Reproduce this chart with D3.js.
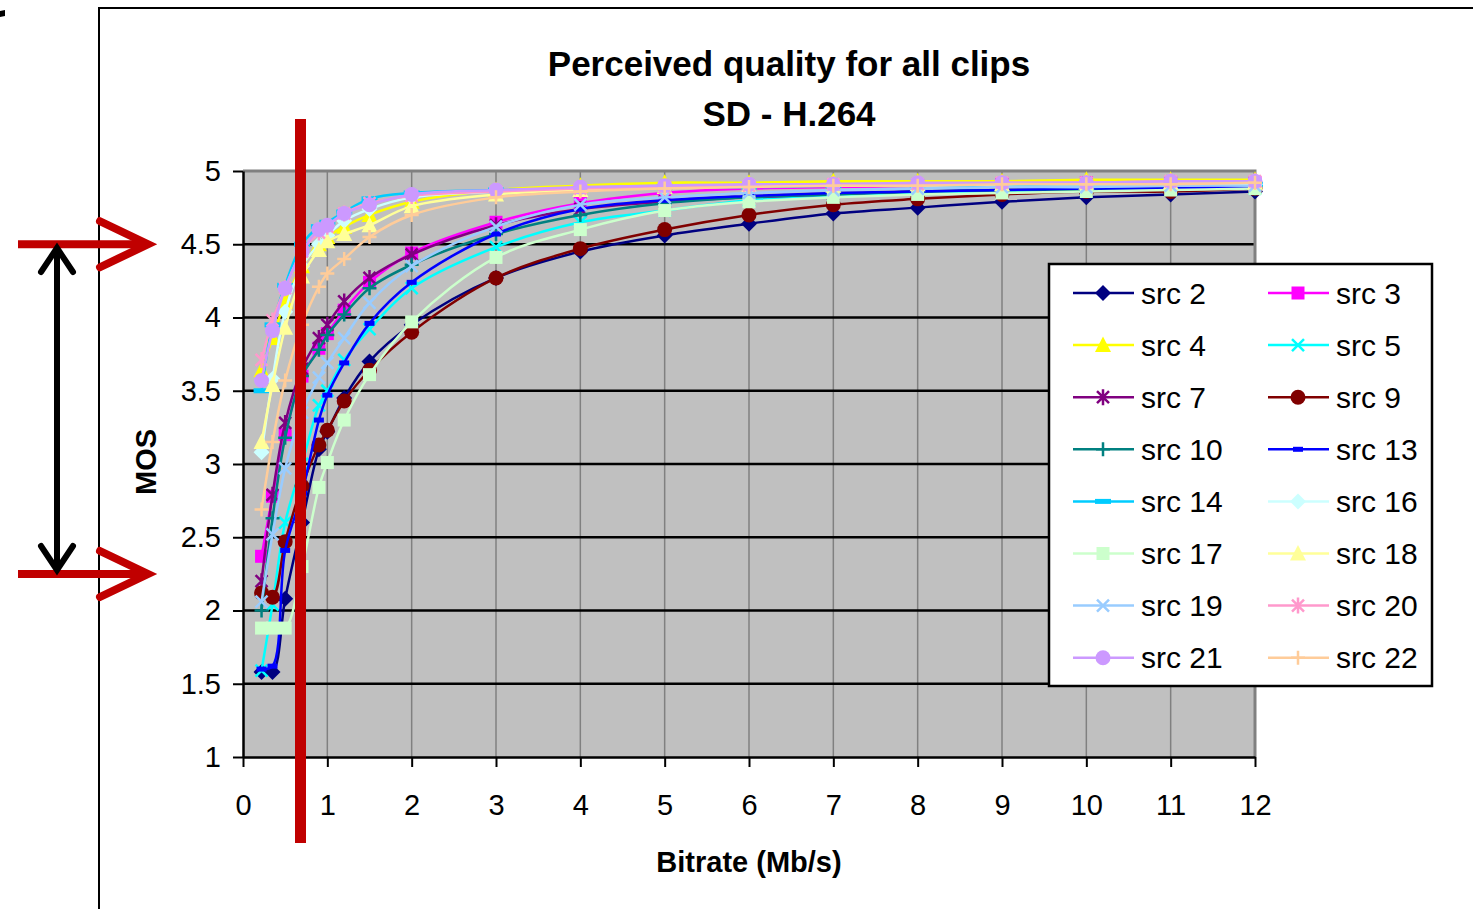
<!DOCTYPE html>
<html>
<head>
<meta charset="utf-8">
<script src="https://cdn.jsdelivr.net/npm/d3@7"></script>
<style>
  body { margin: 0; background: #fff; }
  text { font-family: "Liberation Sans", Arial, sans-serif; }
</style>
</head>
<body>
<div id="chart"></div>
<script>
var svgWidth = 1473;
var svgHeight = 909;

// bitrate (Mb/s) of each measured point
var bitrates = [0.22, 0.35, 0.5, 0.7, 0.9, 1, 1.2, 1.5, 2, 3, 4, 5, 6, 7, 8, 9, 10, 11, 12];

// MOS per source, same order as bitrates
var src2  = [1.58, 1.58, 2.08, 2.60, 3.10, 3.22, 3.45, 3.70, 3.95, 4.27, 4.45, 4.56, 4.64, 4.71, 4.75, 4.79, 4.82, 4.84, 4.86];
var src3  = [2.37, 2.78, 3.20, 3.60, 3.79, 3.89, 4.05, 4.24, 4.44, 4.65, 4.78, 4.85, 4.88, 4.89, 4.90, 4.91, 4.92, 4.92, 4.92];
var src4  = [3.64, 3.86, 4.11, 4.35, 4.50, 4.55, 4.62, 4.70, 4.79, 4.87, 4.90, 4.92, 4.92, 4.93, 4.93, 4.93, 4.94, 4.94, 4.94];
var src5  = [1.59, 2.04, 2.60, 3.00, 3.40, 3.50, 3.71, 3.92, 4.20, 4.48, 4.65, 4.73, 4.80, 4.83, 4.85, 4.86, 4.87, 4.87, 4.88];
var src7  = [2.20, 2.79, 3.28, 3.65, 3.86, 3.95, 4.11, 4.27, 4.43, 4.63, 4.74, 4.79, 4.82, 4.84, 4.86, 4.87, 4.88, 4.88, 4.89];
var src9  = [2.12, 2.09, 2.47, 2.85, 3.13, 3.23, 3.43, 3.64, 3.90, 4.27, 4.47, 4.60, 4.70, 4.77, 4.81, 4.84, 4.86, 4.86, 4.88];
var src10 = [2.00, 2.63, 3.18, 3.60, 3.78, 3.88, 4.02, 4.20, 4.36, 4.57, 4.70, 4.78, 4.82, 4.84, 4.86, 4.87, 4.87, 4.88, 4.88];
var src13 = [1.60, 1.62, 2.41, 2.80, 3.30, 3.47, 3.69, 3.96, 4.24, 4.57, 4.74, 4.80, 4.83, 4.85, 4.86, 4.87, 4.88, 4.88, 4.89];
var src14 = [3.50, 3.95, 4.22, 4.50, 4.62, 4.65, 4.72, 4.81, 4.85, 4.87, 4.88, 4.89, 4.89, 4.90, 4.90, 4.90, 4.90, 4.91, 4.91];
var src16 = [3.08, 3.58, 4.04, 4.35, 4.50, 4.56, 4.66, 4.74, 4.82, 4.86, 4.88, 4.89, 4.90, 4.90, 4.90, 4.91, 4.91, 4.91, 4.91];
var src17 = [1.88, 1.88, 1.88, 2.30, 2.84, 3.01, 3.30, 3.61, 3.97, 4.41, 4.60, 4.73, 4.79, 4.82, 4.84, 4.85, 4.86, 4.87, 4.88];
var src18 = [3.15, 3.54, 3.93, 4.28, 4.46, 4.52, 4.57, 4.63, 4.76, 4.84, 4.87, 4.89, 4.90, 4.90, 4.91, 4.91, 4.92, 4.92, 4.92];
var src19 = [2.06, 2.52, 2.97, 3.35, 3.59, 3.69, 3.86, 4.10, 4.35, 4.62, 4.77, 4.82, 4.85, 4.87, 4.88, 4.89, 4.89, 4.90, 4.90];
var src20 = [3.71, 3.98, 4.20, 4.45, 4.58, 4.62, 4.71, 4.78, 4.83, 4.86, 4.88, 4.89, 4.90, 4.91, 4.91, 4.92, 4.92, 4.93, 4.93];
var src21 = [3.57, 3.91, 4.20, 4.45, 4.60, 4.63, 4.71, 4.77, 4.84, 4.87, 4.89, 4.90, 4.91, 4.91, 4.92, 4.92, 4.92, 4.93, 4.93];
var src22 = [2.69, 3.15, 3.57, 3.95, 4.21, 4.30, 4.40, 4.55, 4.70, 4.82, 4.86, 4.88, 4.89, 4.90, 4.90, 4.91, 4.91, 4.91, 4.92];

var seriesNames = ["src 2", "src 3", "src 4", "src 5", "src 7", "src 9", "src 10", "src 13",
                   "src 14", "src 16", "src 17", "src 18", "src 19", "src 20", "src 21", "src 22"];
var seriesValues = [src2, src3, src4, src5, src7, src9, src10, src13,
                    src14, src16, src17, src18, src19, src20, src21, src22];

var xTicks = [0, 1, 2, 3, 4, 5, 6, 7, 8, 9, 10, 11, 12];
var yTicks = [1, 1.5, 2, 2.5, 3, 3.5, 4, 4.5, 5];

// excel style colours and marker types, one per series
var seriesColors = ["#000080", "#ff00ff", "#ffff00", "#00ffff", "#800080", "#800000", "#008080", "#0000ff",
                    "#00ccff", "#ccffff", "#ccffcc", "#ffff99", "#99ccff", "#ff99cc", "#cc99ff", "#ffcc99"];
var seriesMarkers = ["diamond", "square", "triangle", "x", "star", "circle", "plus", "dash",
                     "longdash", "diamond", "square", "triangle", "x", "star", "circle", "plus"];

var svg = d3.select("#chart")
  .append("svg")
  .attr("width", svgWidth)
  .attr("height", svgHeight);

var plot = {left: 243, right: 1255, top: 171, bottom: 757};

var xScale = d3.scaleLinear().domain([0, 12]).range([plot.left, plot.right]);
var yScale = d3.scaleLinear().domain([1, 5]).range([plot.bottom, plot.top]);

// outer frame of the slide
svg.append("path")
  .attr("d", "M99,909 V8 H1473")
  .attr("fill", "none")
  .attr("stroke", "#000")
  .attr("stroke-width", 2);
svg.append("path")
  .attr("d", "M0,11 L5,10 L5,16 L0,17 Z")
  .attr("fill", "#000");

// plot background
svg.append("rect")
  .attr("x", plot.left)
  .attr("y", plot.top)
  .attr("width", plot.right - plot.left)
  .attr("height", plot.bottom - plot.top)
  .attr("fill", "#c0c0c0");

// vertical grid
svg.append("g").selectAll("line")
  .data(xTicks.filter(d => d > 0 && d < 12))
  .enter()
  .append("line")
  .attr("x1", d => xScale(d)).attr("x2", d => xScale(d))
  .attr("y1", plot.top).attr("y2", plot.bottom)
  .attr("stroke", "#808080")
  .attr("stroke-width", 1.5);

// horizontal grid
svg.append("g").selectAll("line")
  .data(yTicks.filter(d => d > 1 && d < 5))
  .enter()
  .append("line")
  .attr("x1", plot.left).attr("x2", plot.right)
  .attr("y1", d => yScale(d)).attr("y2", d => yScale(d))
  .attr("stroke", "#000")
  .attr("stroke-width", 2.5);

// gray top and right border
svg.append("path")
  .attr("d", `M${plot.left},${plot.top} H${plot.right} V${plot.bottom}`)
  .attr("fill", "none")
  .attr("stroke", "#808080")
  .attr("stroke-width", 3);

// axes
var xAxis = svg.append("g")
  .attr("transform", `translate(0, ${plot.bottom})`)
  .call(d3.axisBottom(xScale).tickValues(xTicks).tickSize(10).tickPadding(27).tickSizeOuter(0));
var yAxis = svg.append("g")
  .attr("transform", `translate(${plot.left}, 0)`)
  .call(d3.axisLeft(yScale).tickValues(yTicks).tickSize(10).tickPadding(12).tickSizeOuter(0)
    .tickFormat(d3.format("")));

[xAxis, yAxis].forEach(function(ax) {
  ax.select(".domain").attr("stroke", "#000").attr("stroke-width", 2.5);
  ax.selectAll(".tick line").attr("stroke", "#000").attr("stroke-width", 2);
  ax.selectAll(".tick text")
    .attr("fill", "#000")
    .style("font-family", "'Liberation Sans', Arial, sans-serif")
    .style("font-size", "29px");
});

// marker shapes
function markerPath(type) {
  switch (type) {
    case "diamond": return "M0,-8L8,0L0,8L-8,0Z";
    case "square": return "M-6.5,-6.5H6.5V6.5H-6.5Z";
    case "triangle": return "M0,-8.5L8,7L-8,7Z";
    case "dash": return "M-5,-2.5H5V2.5H-5Z";
    case "longdash": return "M-8,-2.5H8V2.5H-8Z";
    case "x": return "M-6,-6L6,6M6,-6L-6,6";
    case "star": return "M-6,-6L6,6M6,-6L-6,6M0,-8V8";
    case "plus": return "M-7,0H7M0,-7V7";
  }
  return "";
}

function drawMarker(g, type, color) {
  if (type === "circle") {
    g.append("circle").attr("r", 7.5).attr("fill", color);
  } else if (type === "x" || type === "star" || type === "plus") {
    g.append("path").attr("d", markerPath(type))
      .attr("fill", "none").attr("stroke", color).attr("stroke-width", 2.5);
  } else {
    g.append("path").attr("d", markerPath(type)).attr("fill", color);
  }
}

var line = d3.line()
  .x(d => xScale(d.x))
  .y(d => yScale(d.y))
  .curve(d3.curveCatmullRom.alpha(0.5));

var seriesGroup = svg.append("g");

seriesValues.forEach(function(vals, i) {
  var pts = bitrates.map((b, j) => ({x: b, y: vals[j]})).filter(d => d.y != null);
  var g = seriesGroup.append("g");
  g.append("path")
    .datum(pts)
    .attr("d", line)
    .attr("fill", "none")
    .attr("stroke", seriesColors[i])
    .attr("stroke-width", 2.5);
  pts.forEach(function(p) {
    var m = g.append("g").attr("transform", `translate(${xScale(p.x)}, ${yScale(p.y)})`);
    drawMarker(m, seriesMarkers[i], seriesColors[i]);
  });
});

// titles
var title = svg.append("g")
  .attr("text-anchor", "middle")
  .style("font-weight", "bold")
  .style("font-size", "35px");
title.append("text").attr("x", 789).attr("y", 76).text("Perceived quality for all clips");
title.append("text").attr("x", 789).attr("y", 126).text("SD - H.264");

svg.append("text")
  .attr("x", (plot.left + plot.right) / 2)
  .attr("y", 872)
  .attr("text-anchor", "middle")
  .style("font-weight", "bold")
  .style("font-size", "29px")
  .text("Bitrate (Mb/s)");

svg.append("text")
  .attr("transform", "translate(156, 462) rotate(-90)")
  .attr("text-anchor", "middle")
  .style("font-weight", "bold")
  .style("font-size", "29px")
  .text("MOS");

// legend
var legend = svg.append("g");
legend.append("rect")
  .attr("x", 1049).attr("y", 264)
  .attr("width", 383).attr("height", 422)
  .attr("fill", "#fff")
  .attr("stroke", "#000")
  .attr("stroke-width", 2.5);

seriesNames.forEach(function(name, i) {
  var col = i % 2;
  var row = Math.floor(i / 2);
  var lx = col === 0 ? 1073 : 1268;
  var ly = 293 + row * 52.1;
  var item = legend.append("g").attr("transform", `translate(${lx}, ${ly})`);
  item.append("line")
    .attr("x1", 0).attr("x2", 61)
    .attr("stroke", seriesColors[i])
    .attr("stroke-width", 2.5);
  drawMarker(item.append("g").attr("transform", "translate(30, 0)"), seriesMarkers[i], seriesColors[i]);
  item.append("text")
    .attr("x", 68)
    .attr("y", 0)
    .attr("dy", "0.35em")
    .style("font-size", "30px")
    .text(name);
});

// annotations drawn over the chart
var red = "#c00000";
svg.append("line")
  .attr("x1", 300.5).attr("x2", 300.5)
  .attr("y1", 119).attr("y2", 843)
  .attr("stroke", red)
  .attr("stroke-width", 11);

[yScale(4.5), 574].forEach(function(yy) {
  svg.append("line")
    .attr("x1", 18).attr("x2", 146)
    .attr("y1", yy).attr("y2", yy)
    .attr("stroke", red).attr("stroke-width", 8);
  svg.append("path")
    .attr("d", `M100,${yy - 23} L148,${yy} L100,${yy + 23}`)
    .attr("fill", "none")
    .attr("stroke", red)
    .attr("stroke-width", 8)
    .attr("stroke-linecap", "round")
    .attr("stroke-linejoin", "miter");
});

svg.append("line")
  .attr("x1", 57).attr("x2", 57)
  .attr("y1", 248).attr("y2", 570)
  .attr("stroke", "#000").attr("stroke-width", 6);
svg.append("path")
  .attr("d", "M41,272 L57,248 L73,272 M41,546 L57,570 L73,546")
  .attr("fill", "none")
  .attr("stroke", "#000")
  .attr("stroke-width", 6)
  .attr("stroke-linecap", "round");
</script>
</body>
</html>
